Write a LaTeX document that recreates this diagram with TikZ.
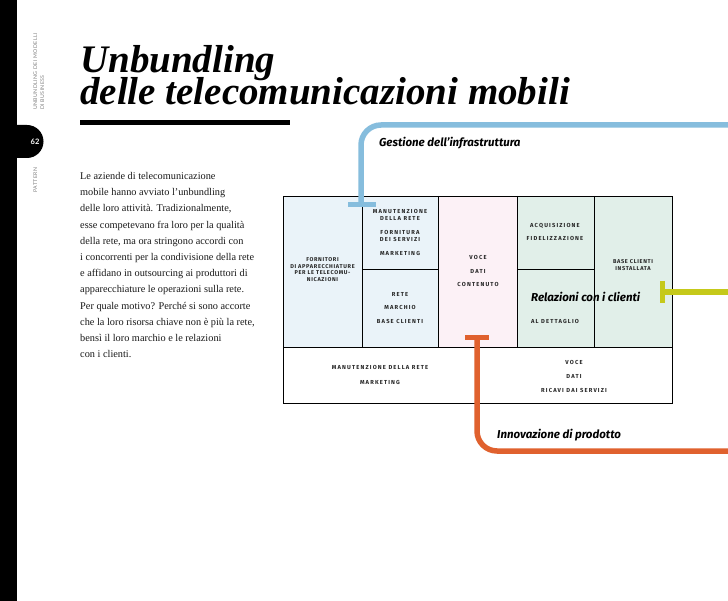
\documentclass[tikz,border=0pt]{standalone}
\usepackage{fontspec}
\setmainfont{Liberation Serif}
\newfontfamily\labfont{Fira Sans}
\newfontfamily\capsfont[LetterSpace=20]{Fira Sans}
\newfontfamily\capsnarrow[LetterSpace=12]{Fira Sans}
\newfontfamily\sidefont[LetterSpace=8]{Lato}
\definecolor{kpblue}{HTML}{EAF3F9}
\definecolor{vppink}{HTML}{FCF1F6}
\definecolor{crgreen}{HTML}{E1EFE9}
\definecolor{lineblue}{HTML}{86BDDD}
\definecolor{lineorange}{HTML}{E0612E}
\definecolor{linegreen}{HTML}{C5C91A}
\begin{document}
\begin{tikzpicture}[x=1pt,y=-1pt,
  cell/.style={font=\capsfont\bfseries\fontsize{5.8}{7}\selectfont, align=center, text=black!85, inner sep=0pt},
  narrowcell/.style={cell, font=\capsnarrow\bfseries\fontsize{5.6}{6.4}\selectfont},
  lab/.style={font=\labfont\bfseries\itshape\fontsize{11.5}{13}\selectfont, anchor=base west, inner sep=0pt},
  body/.style={font=\fontsize{10.3}{12}\selectfont, anchor=base west, inner sep=0pt, text=black!90},
  side/.style={font=\sidefont\fontsize{5.2}{6}\selectfont, text=black!50, rotate=90, anchor=base west, inner sep=0pt},
  title/.style={font=\bfseries\itshape\fontsize{39}{40}\selectfont, anchor=base west, inner sep=0pt},
  canvasline/.style={draw=black, line width=0.9pt},
  route/.style={line width=5.5pt, rounded corners=20pt},
  tbar/.style={line width=5pt}
]
\useasboundingbox (0,0) rectangle (728,601);
\fill[white] (0,0) rectangle (728,601);
% sidebar
\fill[black] (0,0) rectangle (17,601);
\fill[black] (17,125) -- (27,125) arc[start angle=-90,end angle=90,radius=16.5] -- (17,158) -- cycle;
\node[font=\fontspec{Lato}\bfseries\fontsize{7.5}{8}\selectfont, text=white, inner sep=0pt] (pagenum) at (35,142) {62};
\node[side] (side1) at (37,110) {UNBUNDLING DEI MODELLI};
\node[side] (side2) at (44,110) {DI BUSINESS};
\node[side] (side3) at (37,193) {PATTERN};
% title
\node[title, text depth=0pt] (t1) at (80,73) {Unbundling};
\node[title, text height=20pt] (t2) at (80,105) {delle telecomunicazioni mobili};
\fill[black] (80,120) rectangle (290,125);
% body text
\foreach \t [count=\i] in {
  {Le aziende di telecomunicazione},
  {mobile hanno avviato l’unbundling},
  {delle loro attività. Tradizionalmente,},
  {esse competevano fra loro per la qualità},
  {della rete, ma ora stringono accordi con},
  {i concorrenti per la condivisione della rete},
  {e affidano in outsourcing ai produttori di},
  {apparecchiature le operazioni sulla rete.},
  {Per quale motivo? Perché si sono accorte},
  {che la loro risorsa chiave non è più la rete,},
  {bensì il loro marchio e le relazioni},
  {con i clienti.}}
  \node[body] (b\i) at (80,{179.5+16.2*(\i-1)}) {\t};
% canvas fills
\fill[kpblue] (283,196) rectangle (438,347);
\fill[vppink] (438,196) rectangle (517,347);
\fill[crgreen] (517,196) rectangle (672,347);
% canvas lines
\draw[canvasline] (283,196) rectangle (672,403);
\draw[canvasline] (362,196) -- (362,347);
\draw[canvasline] (438,196) -- (438,347);
\draw[canvasline] (517,196) -- (517,347);
\draw[canvasline] (594,196) -- (594,347);
\draw[canvasline] (283,347) -- (672,347);
\draw[canvasline] (362,269) -- (438,269);
\draw[canvasline] (517,269) -- (594,269);
\draw[canvasline] (477,347) -- (477,403);
% cell texts
\node[narrowcell] (kp) at (322.5,269.5) {FORNITORI\\DI APPARECCHIATURE\\PER LE TELECOMU-\\NICAZIONI};
\node[cell] (ka) at (400,232.2) {MANUTENZIONE\\DELLA RETE\\[7pt]FORNITURA\\DEI SERVIZI\\[7pt]MARKETING};
\node[cell] (kr) at (400,307.9) {RETE\\[6.8pt]MARCHIO\\[6.8pt]BASE CLIENTI};
\node[cell] (vp) at (478,271) {VOCE\\[6.3pt]DATI\\[6.3pt]CONTENUTO};
\node[cell] (cr) at (555,231.7) {ACQUISIZIONE\\[6.3pt]FIDELIZZAZIONE};
\node[cell] (ch) at (555,321.7) {AL DETTAGLIO};
\node[narrowcell] (cs) at (633,264.7) {BASE CLIENTI\\[0.8pt]INSTALLATA};
\node[cell] (cost) at (380,375) {MANUTENZIONE DELLA RETE\\[7.6pt]MARKETING};
\node[cell] (rev) at (574,376.2) {VOCE\\[6.8pt]DATI\\[6.8pt]RICAVI DAI SERVIZI};
% pattern routes
\coordinate (bE) at (728,125);
\coordinate (bC) at (361,125);
\coordinate (bT) at (361,205);
\coordinate (bL) at (348,205);
\coordinate (bR) at (376,205);
\draw[route, lineblue] (bE) -- (bC) -- (bT);
\draw[tbar, lineblue] (bL) -- (bR);
\coordinate (oT) at (477,338);
\coordinate (oC) at (477,451);
\coordinate (oE) at (728,451);
\coordinate (oL) at (465,338);
\coordinate (oR) at (489,338);
\draw[route, lineorange] (oT) -- (oC) -- (oE);
\draw[tbar, lineorange] (oL) -- (oR);
\coordinate (gT) at (662,292);
\coordinate (gE) at (728,292);
\coordinate (gU) at (662,281);
\coordinate (gD) at (662,303);
\draw[route, linegreen] (gT) -- (gE);
\draw[tbar, linegreen] (gU) -- (gD);
% pattern labels
\node[lab] (lg) at (379,146.7) {Gestione dell’infrastruttura};
\node[lab] (lr) at (531,301.7) {Relazioni con i clienti};
\node[lab] (li) at (497,438.3) {Innovazione di prodotto};
\end{tikzpicture}
\end{document}
